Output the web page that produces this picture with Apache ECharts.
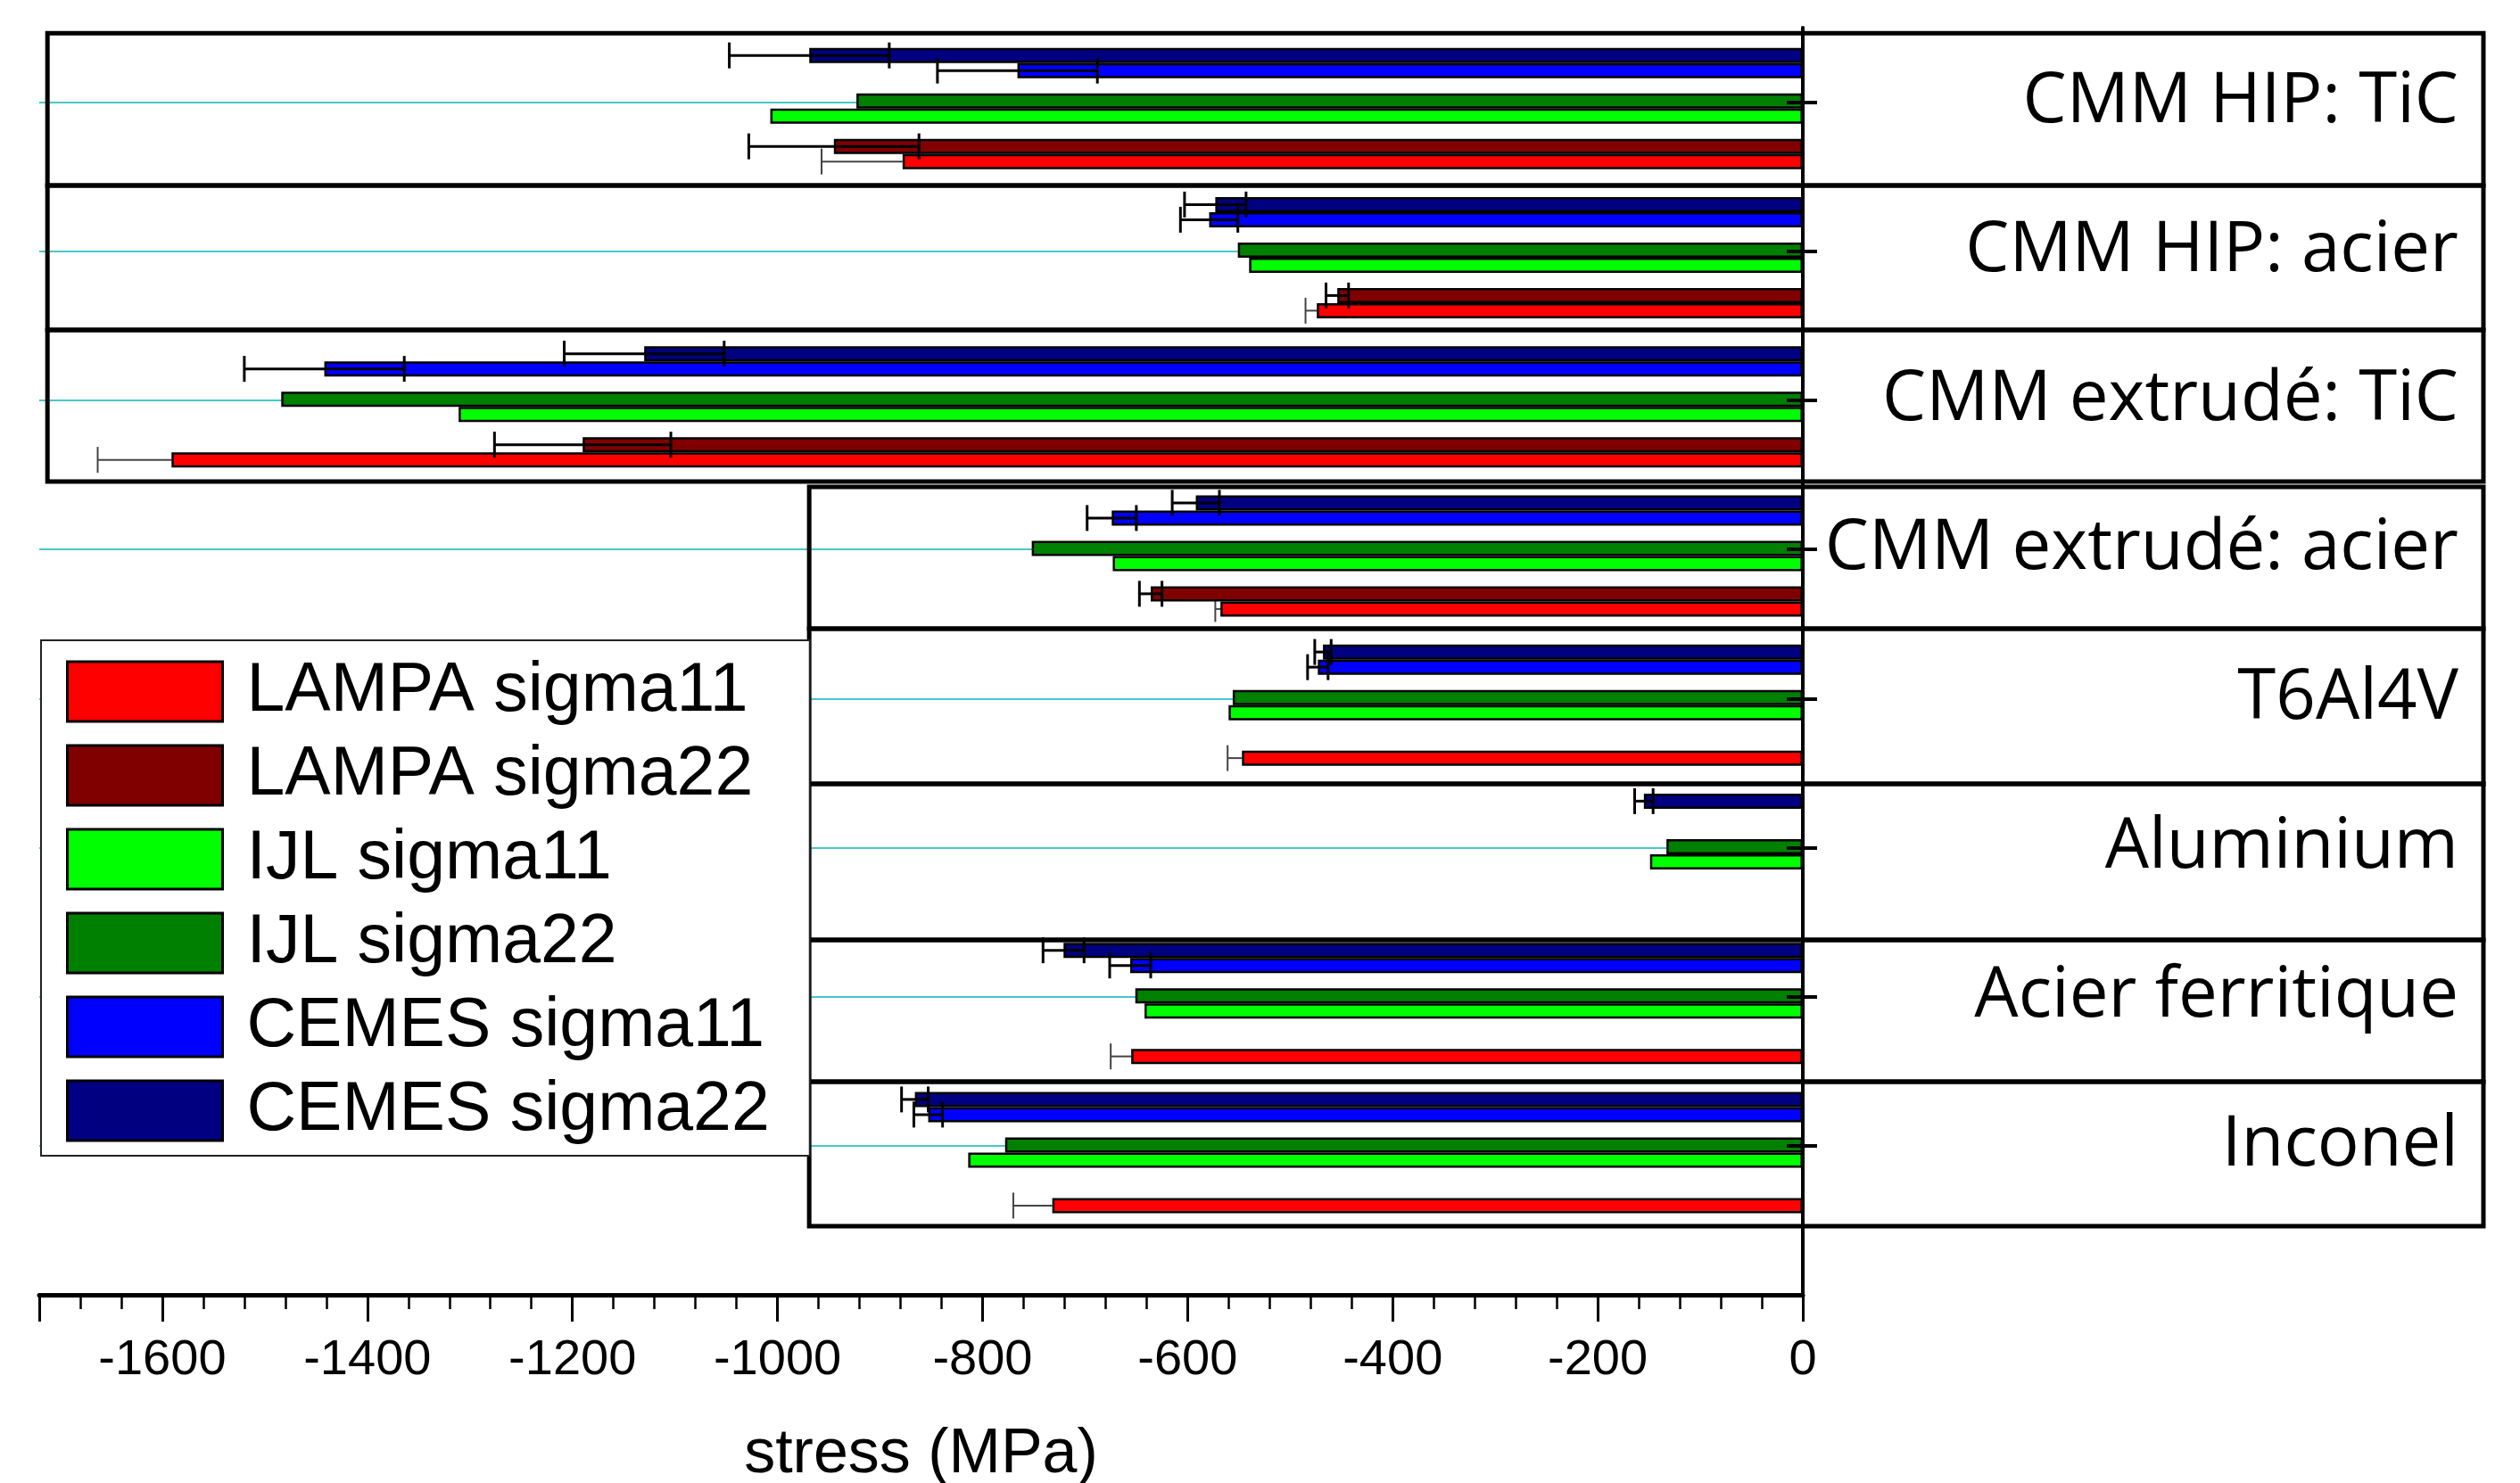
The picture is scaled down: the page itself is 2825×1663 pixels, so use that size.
<!DOCTYPE html>
<html>
<head>
<meta charset="utf-8">
<script src="https://cdn.jsdelivr.net/npm/echarts@6/dist/echarts.min.js"></script>
<style>
  html, body { margin: 0; padding: 0; background: #fff; }
  #chart { width: 2825px; height: 1663px; }
</style>
</head>
<body>
<div id="chart"></div>
<script>
// materials, top to bottom
const categories = ['CMM HIP: TiC', 'CMM HIP: acier', 'CMM extrudé: TiC', 'CMM extrudé: acier',
  'T6Al4V', 'Aluminium', 'Acier ferritique', 'Inconel'];

// stress values (MPa), same order as categories
const lampa11 = [-878, -474, -1591, -568, -547, null, -655, -732];
const lampa22 = [-945, -454, -1190, -636, null, null, null, null];
const ijl11   = [-1007, -540, -1311, -673, -560, -149, -642, -814];
const ijl22   = [-923, -551, -1484, -752, -556, -133, -651, -778];
const cemes11 = [-766, -579, -1442, -674, -473, null, -656, -853];
const cemes22 = [-969, -573, -1130, -592, -468, -155, -721, -866];

// error bars (MPa)
const lampa11Err = [79, 11, 72, 5, 14, null, 20, 38];
const lampa22Err = [83, 11, 86, 11, null, null, null, null];
const cemes11Err = [78, 28, 78, 24, 10, null, 20, 14];
const cemes22Err = [78, 30, 78, 23, 8, 9, 20, 13];

const legendOrder = ['LAMPA sigma11', 'LAMPA sigma22', 'IJL sigma11', 'IJL sigma22', 'CEMES sigma11', 'CEMES sigma22'];

// layout of the boxes drawn round each material: [top, bottom] on the 0..8.5 scale, left edge in MPa
const panelFrames = [
  [8.462, 7.441, -1712], [7.441, 6.472, -1712], [6.472, 5.455, -1712],
  [5.419, 4.468, -969], [4.468, 3.427, -969], [3.427, 2.381, -969],
  [2.381, 1.430, -969], [1.430, 0.461, -969]
];
const PANEL_RIGHT = 664;
const X_MIN = -1720;

const BAR_W = 17;
// slots in each group, top to bottom (null = empty slot)
const slots = [
  { name: 'CEMES sigma22', data: cemes22, err: cemes22Err, color: '#000080', front: true },
  { name: 'CEMES sigma11', data: cemes11, err: cemes11Err, color: '#0000ff', front: true },
  null,
  { name: 'IJL sigma22', data: ijl22, color: '#008000' },
  { name: 'IJL sigma11', data: ijl11, color: '#00ff00' },
  null,
  { name: 'LAMPA sigma22', data: lampa22, err: lampa22Err, color: '#800000', front: true },
  { name: 'LAMPA sigma11', data: lampa11, err: lampa11Err, color: '#ff0000', front: false }
];

// positions of the materials on the 0..8.5 scale (bottom = 1)
const tickVals = categories.map((c, i) => i + 1);

function errorRenderer(slot, front) {
  const off = (slot - (slots.length - 1) / 2) * BAR_W;
  return function (params, api) {
    const v = api.value(0), c = api.value(1), e = api.value(2);
    const lo = api.coord([v - e, c]);
    const hi = api.coord(front ? [v + e, c] : [v, c]);
    const y = lo[1] + off;
    const h = 14.5;
    const style = { stroke: front ? '#000' : '#444', lineWidth: front ? 3 : 2 };
    const children = [
      { type: 'line', shape: { x1: lo[0], y1: y, x2: hi[0], y2: y }, style: style },
      { type: 'line', shape: { x1: lo[0], y1: y - h, x2: lo[0], y2: y + h }, style: style }
    ];
    if (front) children.push({ type: 'line', shape: { x1: hi[0], y1: y - h, x2: hi[0], y2: y + h }, style: style });
    return { type: 'group', children: children };
  };
}

const series = [];
slots.forEach(function (s, i) {
  series.push({
    type: 'bar',
    name: s ? s.name : 'gap' + i,
    xAxisIndex: 2, yAxisIndex: 3,
    data: s ? s.data : [],
    barWidth: BAR_W,
    barGap: '0%',
    silent: true,
    itemStyle: s ? { color: s.color, borderColor: '#000', borderWidth: 2.5 } : {}
  });
});
slots.forEach(function (s, i) {
  if (!s || !s.err) return;
  const data = [];
  categories.forEach(function (c, k) {
    if (s.data[k] != null && s.err[k] != null) data.push([s.data[k], k, s.err[k]]);
  });
  series.push({
    type: 'custom',
    name: 'err ' + s.name,
    xAxisIndex: 2, yAxisIndex: 3,
    encode: { x: 0, y: 1 },
    z: s.front ? 4 : 1,
    silent: true,
    renderItem: errorRenderer(i, s.front),
    data: data
  });
});
// boxes round the materials
series.push({
  type: 'line',
  name: 'frames',
  xAxisIndex: 1, yAxisIndex: 2,
  data: [],
  silent: true,
  markArea: {
    silent: true,
    label: { show: false },
    itemStyle: { color: 'rgba(0,0,0,0)', borderColor: '#000', borderWidth: 5 },
    data: panelFrames.map(f => [{ xAxis: f[2], yAxis: f[0] }, { xAxis: PANEL_RIGHT, yAxis: f[1] }])
  }
});

const chart = echarts.init(document.getElementById('chart'));
chart.setOption({
  animation: false,
  backgroundColor: '#fff',
  grid: [
    { left: 44, right: 804, top: 31, bottom: 211, outerBoundsMode: 'none' },
    { left: 44, right: 41, top: 31, bottom: 211, outerBoundsMode: 'none' },
    { left: 44, right: 804, top: 38, bottom: 287, outerBoundsMode: 'none' }
  ],
  xAxis: [
    {
      type: 'value', gridIndex: 0, min: X_MIN, max: 0, splitNumber: 9, position: 'bottom',
      axisLine: { show: true, onZero: false, lineStyle: { color: '#000', width: 5 } },
      axisTick: { show: true, length: 30, lineStyle: { color: '#000', width: 3 } },
      minorTick: { show: true, splitNumber: 5, length: 16, lineStyle: { color: '#000', width: 2.5 } },
      splitLine: { show: false },
      axisLabel: {
        show: true, showMinLabel: false, margin: 46, fontSize: 56, fontFamily: 'Liberation Sans', color: '#000',
        formatter: v => String(v)
      },
      name: 'stress (MPa)', nameLocation: 'middle', nameGap: 145,
      nameTextStyle: { fontSize: 70, fontFamily: 'Liberation Sans', color: '#000' }
    },
    { type: 'value', gridIndex: 1, min: X_MIN, max: PANEL_RIGHT, show: false },
    { type: 'value', gridIndex: 2, min: X_MIN, max: 0, show: false }
  ],
  yAxis: [
    {
      type: 'value', gridIndex: 0, min: 0, max: 8.5, interval: 1, position: 'right',
      axisLine: { show: true, onZero: false, lineStyle: { color: '#000', width: 4 } },
      axisTick: { show: true, customValues: tickVals, length: 16, lineStyle: { color: '#000', width: 4 } },
      axisLabel: { show: false },
      splitLine: { show: true, lineStyle: { color: '#48c8c8', width: 2 } }
    },
    {
      type: 'value', gridIndex: 0, min: 0, max: 8.5, interval: 1, position: 'right', z: 10,
      axisLine: { show: false },
      axisTick: { show: true, inside: true, customValues: tickVals, length: 18, lineStyle: { color: '#000', width: 4 } },
      axisLabel: { show: false },
      splitLine: { show: false }
    },
    {
      type: 'value', gridIndex: 1, min: 0, max: 8.5, position: 'right',
      axisLine: { show: false },
      axisTick: { show: false },
      splitLine: { show: false },
      axisLabel: {
        show: true, inside: true, margin: 28, customValues: tickVals,
        fontSize: 78, fontFamily: 'Open Sans', color: '#000',
        formatter: v => categories[categories.length - v] || ''
      }
    },
    { type: 'category', gridIndex: 2, data: categories, inverse: true, show: false }
  ],
  legend: {
    data: legendOrder,
    orient: 'vertical', left: 46, top: 718,
    padding: [19, 45, 12, 28],
    itemGap: 17, itemWidth: 174, itemHeight: 67,
    icon: 'rect',
    backgroundColor: '#fff', borderColor: '#222', borderWidth: 2, borderRadius: 0,
    itemStyle: { borderColor: '#000', borderWidth: 3 },
    textStyle: { fontSize: 77, fontFamily: 'Liberation Sans', color: '#000', padding: [4, 0, 0, 22] },
    selectedMode: false
  },
  series: series
});
</script>
</body>
</html>
